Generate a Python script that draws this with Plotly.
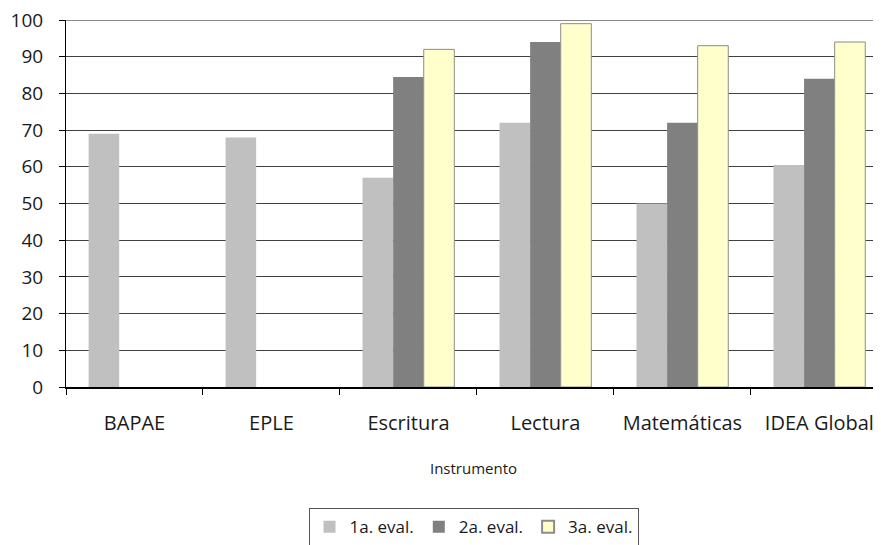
import plotly.graph_objects as go

categories = ["BAPAE", "EPLE", "Escritura", "Lectura", "Matemáticas", "IDEA Global"]
eval1 = [69, 68, 57, 72, 50, 60.5]
eval2 = [None, None, 84.5, 94, 72, 84]
eval3 = [None, None, 92, 99, 93, 94]
series_names = ["1a. eval.", "2a. eval.", "3a. eval."]
y_ticks = [0, 10, 20, 30, 40, 50, 60, 70, 80, 90, 100]

FONT = "Open Sans"

fig = go.Figure()
fig.add_trace(go.Bar(x=categories, y=eval1, name=series_names[0],
                     marker=dict(color="#C0C0C0", line=dict(width=0))))
fig.add_trace(go.Bar(x=categories, y=eval2, name=series_names[1],
                     marker=dict(color="#808080", line=dict(width=0))))
fig.add_trace(go.Bar(x=categories, y=eval3, name=series_names[2],
                     marker=dict(color="#FFFFCC", line=dict(color="#8C8C8C", width=1))))

fig.update_layout(
    width=881, height=545,
    margin=dict(l=58, r=8, t=12, b=166, autoexpand=False),
    paper_bgcolor="white", plot_bgcolor="white",
    barmode="group", bargap=0.33, bargroupgap=0,
    font=dict(family=FONT, size=18, color="#1a1a1a"),
    showlegend=True,
    legend=dict(orientation="h", x=0.5, xanchor="center", y=-0.33, yanchor="top",
                bordercolor="#555555", borderwidth=1, font=dict(size=17),
                itemsizing="constant", traceorder="normal", itemwidth=30,
                tracegroupgap=0),
)
fig.update_xaxes(
    range=[-0.5, 5.45], automargin=False,
    tickson="boundaries", ticks="outside", ticklen=6, tickcolor="#000000",
    showline=True, linecolor="#000000", linewidth=2,
    showgrid=False, ticklabelstandoff=17, ticklabeloverflow="allow",
    tickfont=dict(size=20),
    title=dict(text="Instrumento", font=dict(size=15), standoff=28),
)
fig.update_yaxes(
    range=[0, 100], tickvals=y_ticks, automargin=False,
    ticks="outside", ticklen=6, tickcolor="#000000",
    showline=True, linecolor="#000000", linewidth=1,
    showgrid=True, gridcolor="#404040", gridwidth=1,
    zeroline=False, ticklabelstandoff=12, ticklabeloverflow="allow",
    tickfont=dict(size=19),
)
fig.add_shape(type="line", xref="paper", yref="y", x0=0, x1=1, y0=100, y1=100,
              line=dict(color="#8A8A8A", width=2), layer="below")

fig.write_html("out.html")
